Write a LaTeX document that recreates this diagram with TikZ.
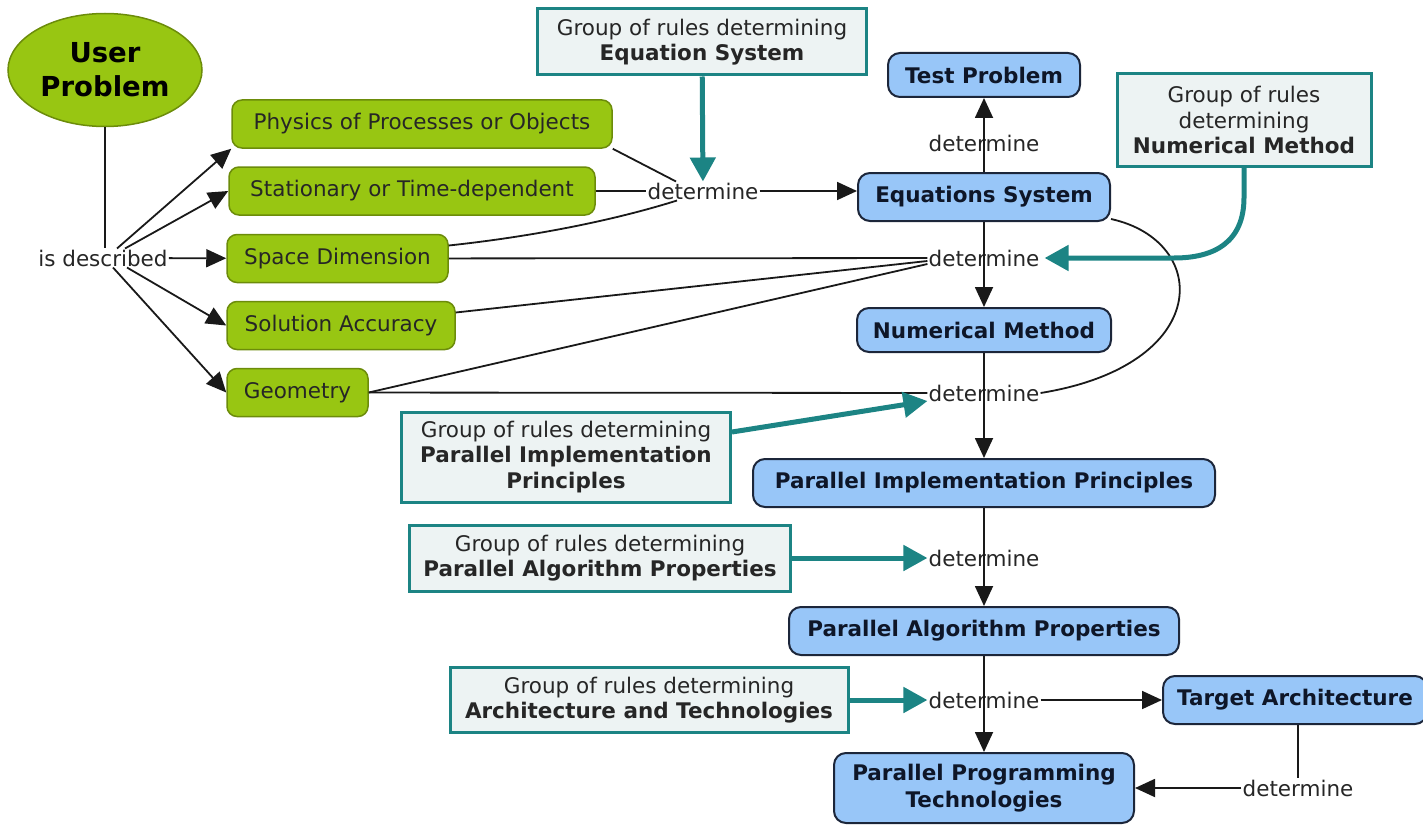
\documentclass[tikz,border=0pt]{standalone}
\usepackage{fontspec}
\setmainfont{DejaVu Sans}
\usetikzlibrary{shapes.geometric,arrows.meta}
\definecolor{ugreen}{RGB}{152,198,18}
\definecolor{ugreenline}{RGB}{108,140,10}
\definecolor{cblue}{RGB}{152,198,248}
\definecolor{cblueline}{RGB}{28,38,58}
\definecolor{bluetext}{RGB}{14,22,40}
\definecolor{rteal}{RGB}{28,132,132}
\definecolor{rfill}{RGB}{237,243,243}
\begin{document}
\begin{tikzpicture}[x=1pt,y=-1pt,
  txt/.style={font=\fontsize{21.5}{25.5}\selectfont,text=black!85},
  user/.style={ellipse,draw=ugreenline,line width=1.5pt,fill=ugreen,minimum width=194pt,minimum height=113pt,inner sep=0pt,align=center,font=\fontsize{27.5}{34}\selectfont\bfseries},
  gbox/.style={txt,draw=ugreenline,line width=1.5pt,fill=ugreen,rounded corners=10pt,minimum height=48pt,inner sep=0pt},
  bbox/.style={draw=cblueline,line width=2pt,fill=cblue,rounded corners=12pt,minimum height=46pt,inner sep=0pt,align=center,font=\fontsize{21.5}{27}\selectfont\bfseries,text=bluetext},
  rbox/.style={txt,draw=rteal,line width=3pt,fill=rfill,inner sep=0pt,align=center},
  det/.style={txt,inner sep=1pt},
  link/.style={line width=1.8pt,black!90},
  arr/.style={link,-{Triangle[length=20pt,width=18pt]}},
  tarr/.style={line width=5pt,draw=rteal,-{Triangle[length=24pt,width=25pt]}}]
  \useasboundingbox (0,0) rectangle (1423,824);

  % problema del usuario
  \node[user] (up) at (105,70) {User\\Problem};
  \node[det] (isd) at (103,258) {is described};
  \node[gbox,minimum width=380pt] (phys) at (422,124) {Physics of Processes or Objects};
  \node[gbox,minimum width=366pt] (stat) at (412,191) {Stationary or Time-dependent};
  \node[gbox,minimum width=221pt] (space) at (337.5,258.5) {Space Dimension};
  \node[gbox,minimum width=228pt] (acc) at (341,325.5) {Solution Accuracy};
  \node[gbox,minimum width=141pt] (geo) at (297.5,392.5) {Geometry};

  % columna central
  \node[bbox,minimum width=192pt,minimum height=44pt] (test) at (984,75) {Test Problem};
  \node[det] (det0) at (984,143) {determine};
  \node[bbox,minimum width=252pt,minimum height=48pt] (eqs) at (984,197) {Equations System};
  \node[det] (det1) at (703,191) {determine};
  \node[det] (det2) at (984,258) {determine};
  \node[bbox,minimum width=254pt,minimum height=44pt] (nm) at (984,330) {Numerical Method};
  \node[det] (det3) at (984,393) {determine};
  \node[bbox,minimum width=462pt,minimum height=48pt] (pip) at (984,483) {Parallel Implementation Principles};
  \node[det] (det4) at (984,558) {determine};
  \node[bbox,minimum width=390pt,minimum height=48pt] (pap) at (984,631) {Parallel Algorithm Properties};
  \node[det] (det5) at (984,700) {determine};
  \node[bbox,minimum width=264pt,minimum height=48pt] (ta) at (1295,700) {Target Architecture};
  \node[det] (det6) at (1298,788) {determine};
  \node[bbox,minimum width=300pt,minimum height=70pt] (ppt) at (984,788) {Parallel Programming\\Technologies};

  % grupos de reglas
  \node[rbox,minimum width=329pt,minimum height=66pt] (eqg) at (702,42) {Group of rules determining\\\textbf{Equation System}};
  \node[rbox,minimum width=254pt,minimum height=92pt] (nmg) at (1244,120) {Group of rules\\determining\\\textbf{Numerical Method}};
  \node[rbox,minimum width=329pt,minimum height=90pt] (pipg) at (566,457) {Group of rules determining\\\textbf{Parallel Implementation}\\\textbf{Principles}};
  \node[rbox,minimum width=381pt,minimum height=66pt] (papg) at (600,558) {Group of rules determining\\\textbf{Parallel Algorithm Properties}};
  \node[rbox,minimum width=398pt,minimum height=65pt] (atg) at (649,700) {Group of rules determining\\\textbf{Architecture and Technologies}};
  \coordinate (nmbend) at (1174,258);

  % is described
  \draw[link] (up.south) -- (up.south |- isd.north);
  \draw[arr] ([xshift=14pt]isd.north) -- (phys.south west);
  \draw[arr] ([xshift=22pt]isd.north) -- (stat.west);
  \draw[arr] (isd) -- (space);
  \draw[arr] ([xshift=24pt]isd.south) -- (acc.west);
  \draw[arr] ([xshift=10pt]isd.south) -- (geo.west);

  % determine -> Equations System
  \draw[link] (phys.south east) -- ([xshift=-27pt]det1.north);
  \draw[link] (stat) -- (det1);
  \draw[link] ([yshift=13pt]space.east) .. controls +(75,-8) and +(-70,22) .. ([xshift=-26pt]det1.south);
  \draw[arr] (det1) -- (det1 -| eqs.west);
  \draw[link] (eqs.north) -- (det0.center);
  \draw[arr] (det0.center) -- (test.south);

  % determine -> Numerical Method
  \draw[link] (space) -- (det2);
  \draw[link] ([yshift=13pt]acc.east) -- ([yshift=-3pt]det2.west);
  \draw[link] (geo.east) -- ([yshift=-6pt]det2.west);
  \draw[link] (eqs.south) -- (det2.center);
  \draw[arr] (det2.center) -- (nm.north);

  % determine -> Parallel Implementation Principles
  \draw[link] (geo) -- (det3);
  \draw[link] ([yshift=3pt]eqs.south east) .. controls +(100,22) and +(173,-28) .. (det3.east);
  \draw[link] (nm.south) -- (det3.center);
  \draw[arr] (det3.center) -- (pip.north);

  % resto de la columna
  \draw[link] (pip.south) -- (det4.center);
  \draw[arr] (det4.center) -- (pap.north);
  \draw[link] (pap.south) -- (det5.center);
  \draw[arr] (det5.center) -- (ppt.north);
  \draw[arr] (det5) -- (ta);
  \draw[link] (det6 |- ta.south) -- (det6);
  \draw[arr] (det6) -- (ppt);

  % flechas de las reglas
  \draw[tarr] (eqg) -- (det1);
  \draw[tarr] (nmg.south) -- ++(0,30) .. controls +(0,45) and +(40,0) .. (nmbend) -- ([xshift=4pt]det2.east);
  \draw[tarr] ([yshift=25pt]pipg.east) -- ([yshift=-8pt]det3.west);
  \draw[tarr] (papg) -- (det4);
  \draw[tarr] (atg) -- (det5);
\end{tikzpicture}
\end{document}
